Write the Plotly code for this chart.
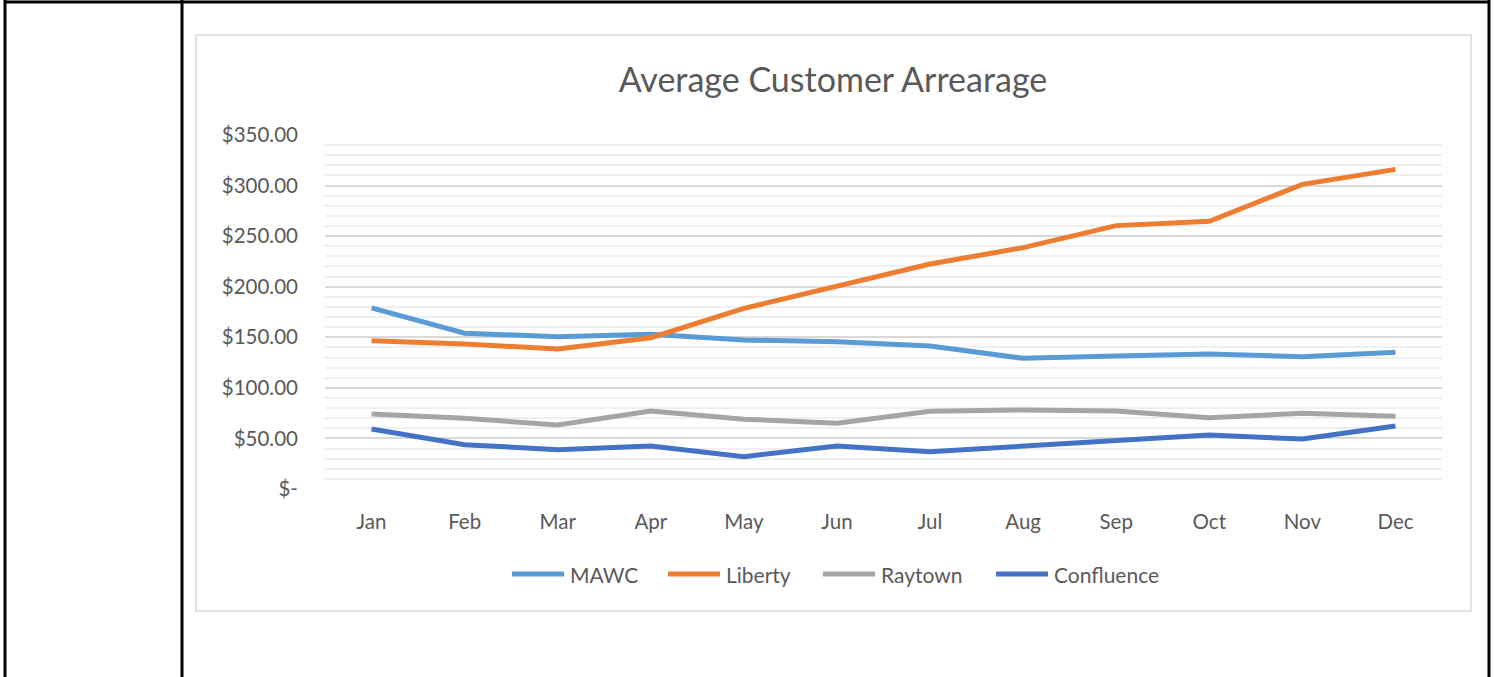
import plotly.graph_objects as go

months = ["Jan", "Feb", "Mar", "Apr", "May", "Jun", "Jul", "Aug", "Sep", "Oct", "Nov", "Dec"]
mawc = [179, 154, 150.6, 153, 147.3, 145.6, 141.4, 129.2, 131.5, 133.5, 130.8, 135.1]
liberty = [146.6, 143.4, 138.4, 149.6, 178.6, 200, 222.5, 238.6, 260.4, 264.7, 301.2, 316]
raytown = [74.2, 69.9, 63.3, 77.1, 69, 65, 76.8, 78.1, 77.1, 70.5, 74.8, 71.9]
confluence = [59.3, 43.8, 38.9, 42.5, 32, 42.5, 36.9, 42.5, 47.5, 53.4, 49.4, 62.3]
series_names = ["MAWC", "Liberty", "Raytown", "Confluence"]
series_colors = ["#5B9BD5", "#ED7D31", "#A5A5A5", "#4472C4"]
ytick_vals = [0, 50, 100, 150, 200, 250, 300, 350]
ytick_text = ["$-", "$50.00", "$100.00", "$150.00", "$200.00", "$250.00", "$300.00", "$350.00"]

W, H = 1494, 677
PL, PR, PT, PB = 325, 1442, 135, 489
FONT = "Lato"
TXT = "#595959"

fig = go.Figure()
for name, vals, col in zip(series_names, [mawc, liberty, raytown, confluence], series_colors):
    fig.add_trace(go.Scatter(x=months, y=vals, name=name, mode="lines",
                             line=dict(color=col, width=5, shape="linear"),
                             hoverinfo="x+y+name", showlegend=False))

def px(x):
    return (x - PL) / (PR - PL)

def py(y):
    return (PB - y) / (PB - PT)

shapes = []
annotations = []
# chart frame
shapes.append(dict(type="rect", xref="paper", yref="paper", x0=px(196), x1=px(1471), y0=py(611), y1=py(35),
                   line=dict(color="#d9d9d9", width=1.5), fillcolor="rgba(0,0,0,0)", layer="below"))
# black table borders
for (x0, y0, x1, y1) in [(5, 0, 5, H + 5), (182, 0, 182, H + 5), (5, 2, 1489, 2), (1489, 0, 1489, H + 5)]:
    shapes.append(dict(type="line", xref="paper", yref="paper", x0=px(x0), x1=px(x1), y0=py(y0), y1=py(y1),
                       line=dict(color="black", width=3)))

# legend (drawn manually to match long line symbols)
legend_x = [510, 666, 821, 994]
LEG_Y = 574
for name, col, lx in zip(series_names, series_colors, legend_x):
    shapes.append(dict(type="line", xref="paper", yref="paper", x0=px(lx + 2), x1=px(lx + 54),
                       y0=py(LEG_Y), y1=py(LEG_Y), line=dict(color=col, width=5)))
    annotations.append(dict(text=name, xref="paper", yref="paper", x=px(lx + 58), y=py(LEG_Y),
                            xanchor="left", yanchor="middle", showarrow=False,
                            font=dict(family=FONT, size=21, color=TXT)))

fig.update_layout(
    width=W, height=H,
    margin=dict(l=PL, r=W - PR, t=PT, b=H - PB, pad=0),
    paper_bgcolor="white", plot_bgcolor="white",
    font=dict(family=FONT, color=TXT, size=20),
    title=dict(text="Average Customer Arrearage", x=833 / W, xanchor="center", y=1 - 80 / H, yanchor="middle",
               font=dict(family=FONT, size=34, color=TXT)),
    showlegend=False,
    shapes=shapes,
    annotations=annotations,
    xaxis=dict(type="category", range=[-0.5, 11.5], showgrid=False, zeroline=False, showline=False,
               ticks="", ticklabelstandoff=18, tickfont=dict(family=FONT, size=20.5, color=TXT), fixedrange=True),
    yaxis=dict(range=[0, 350], tickvals=ytick_vals, ticktext=ytick_text, showgrid=True, gridcolor="#d9d9d9",
               gridwidth=1.5, zeroline=False, showline=False, ticks="", ticklabelstandoff=26,
               tickfont=dict(family=FONT, size=20.5, color=TXT),
               minor=dict(dtick=10, tick0=0, showgrid=True, gridcolor="#efefef", gridwidth=1.5),
               fixedrange=True),
)

fig.write_html("out.html", config={"displayModeBar": False},
               post_script="document.body.style.margin='0';document.body.style.overflow='hidden';")
